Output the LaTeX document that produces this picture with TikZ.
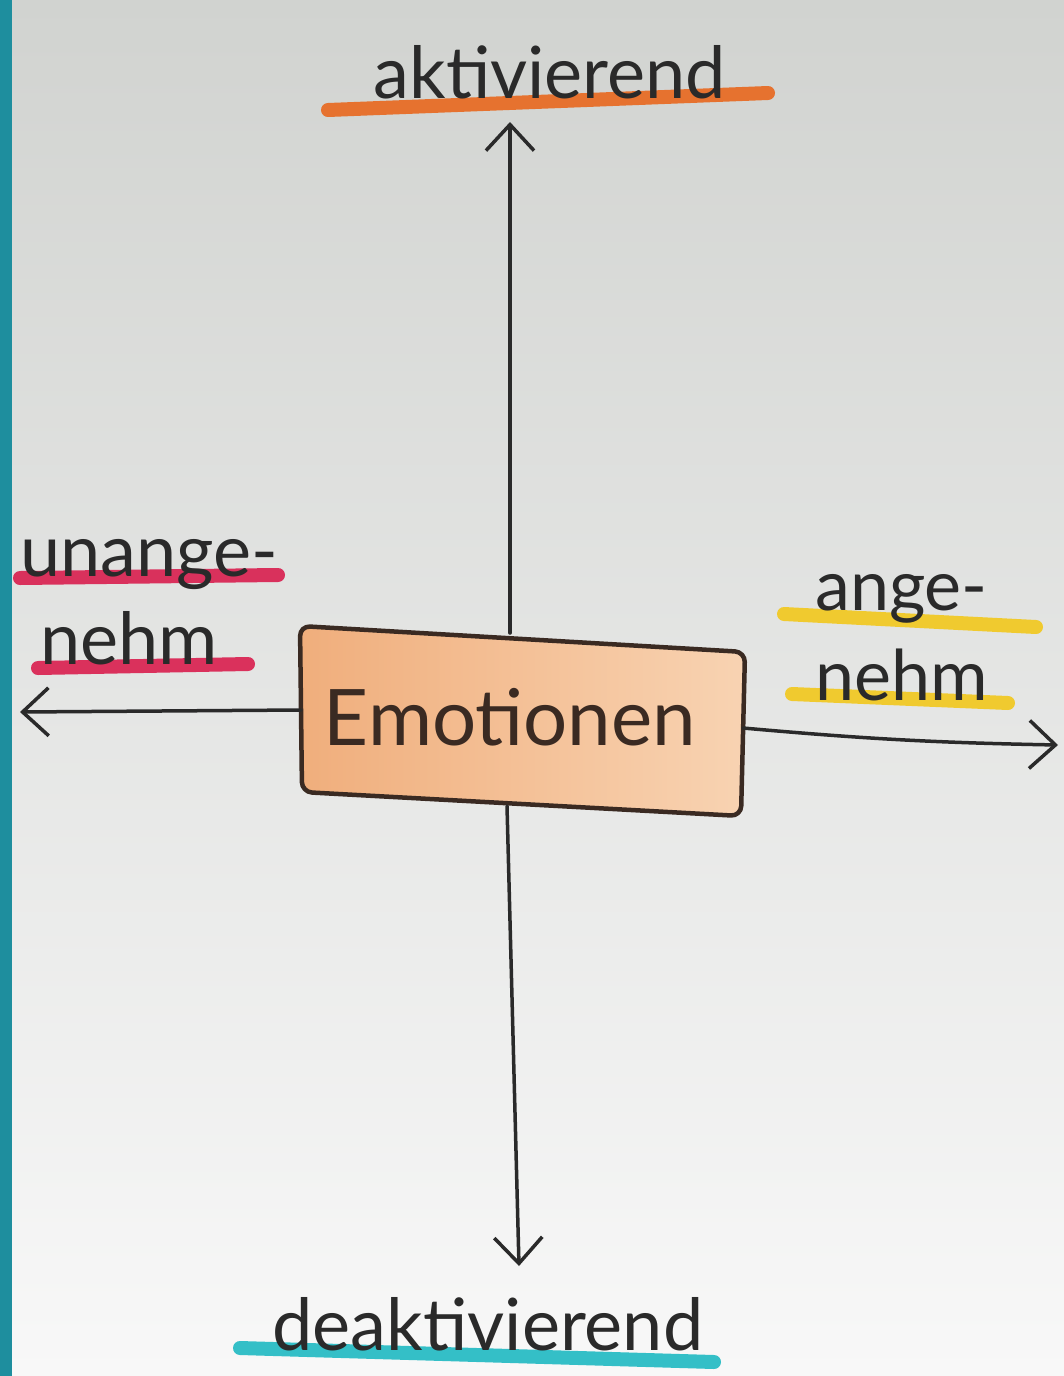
\documentclass[tikz,border=0pt]{standalone}
\usepackage{fontspec}
\setmainfont{Lato}
\usetikzlibrary{arrows.meta}
\definecolor{bgtop}{HTML}{D1D3D0}
\definecolor{bgmid}{HTML}{E3E4E3}
\definecolor{bgbot}{HTML}{F8F8F8}
\definecolor{edgeteal}{HTML}{1E8E9E}
\definecolor{ink}{HTML}{2A2A2A}
\definecolor{boxink}{HTML}{3A2A22}
\definecolor{mkorange}{HTML}{E8681E}
\definecolor{mkred}{HTML}{D91E4E}
\definecolor{mkyellow}{HTML}{F2C81C}
\definecolor{mkteal}{HTML}{1FB9C2}
\definecolor{boxleft}{HTML}{F0AE7C}
\definecolor{boxright}{HTML}{F8D3B2}
\tikzset{
  hand/.style={text=ink, inner sep=0pt, anchor=base},
  marker/.style={line width=14pt, line cap=round, opacity=0.9},
  axis/.style={draw=ink, line width=3.5pt, line cap=round,
    -{Straight Barb[length=26pt, width=48pt, line width=3.5pt]}},
  boxline/.style={draw=boxink, line width=4.5pt, rounded corners=10pt, line join=round}
}
\begin{document}
\begin{tikzpicture}[x=1pt,y=-1pt]
\useasboundingbox (0,0) rectangle (1064,1376);
\shade[top color=bgtop, middle color=bgmid, bottom color=bgbot] (0,0) rectangle (1064,1376);
\fill[edgeteal] (0,0) rectangle (12,1376);

% marker underlines
\draw[marker, mkorange] (328,110) -- (768,93);
\draw[marker, mkred] (20,578) -- (278,575);
\draw[marker, mkred] (38,668) -- (248,664);
\draw[marker, mkyellow] (784,614) -- (1036,627);
\draw[marker, mkyellow] (792,694) -- (1008,703);
\draw[marker, mkteal] (240,1348) -- (714,1362);

% central box
\coordinate (b1) at (300,626);
\coordinate (b2) at (745,652);
\coordinate (b3) at (741,816);
\coordinate (b4) at (302,792);
\shade[left color=boxleft, right color=boxright, rounded corners=10pt] (b1) -- (b2) -- (b3) -- (b4) -- cycle;
\draw[boxline] (b1) -- (b2) -- (b3) -- (b4) -- cycle;
\node[hand, font=\fontsize{78}{80}\selectfont, text=boxink] (emo) at (510,745) {Emotionen};

\coordinate (boxT) at (510,633);
\coordinate (boxB) at (507,806);
\coordinate (boxL) at (301,710);
\coordinate (boxR) at (743,728);

% labels
\node[hand, font=\fontsize{72}{76}\selectfont] (akt) at (550,98) {aktivierend};
\node[hand, font=\fontsize{72}{76}\selectfont] (deakt) at (488,1350) {deaktivierend};
\node[hand, font=\fontsize{72}{76}\selectfont, anchor=base west] (unange) at (20,576) {unange-};
\node[hand, font=\fontsize{72}{76}\selectfont, anchor=base west] (unnehm) at (40,664) {nehm};
\node[hand, font=\fontsize{70}{76}\selectfont, anchor=base west] (ange) at (815,610) {ange-};
\node[hand, font=\fontsize{70}{76}\selectfont, anchor=base west] (angnehm) at (815,700) {nehm};

% axis arrows
\coordinate (tipT) at (510,122);
\coordinate (tipB) at (519,1266);
\coordinate (tipL) at (20,712);
\coordinate (tipR) at (1058,745);
\draw[axis] (boxT) -- (tipT);
\draw[axis] (boxB) -- (tipB);
\draw[axis] (boxL) -- (tipL);
\draw[axis] (boxR) to[bend right=2] (tipR);
\end{tikzpicture}
\end{document}
